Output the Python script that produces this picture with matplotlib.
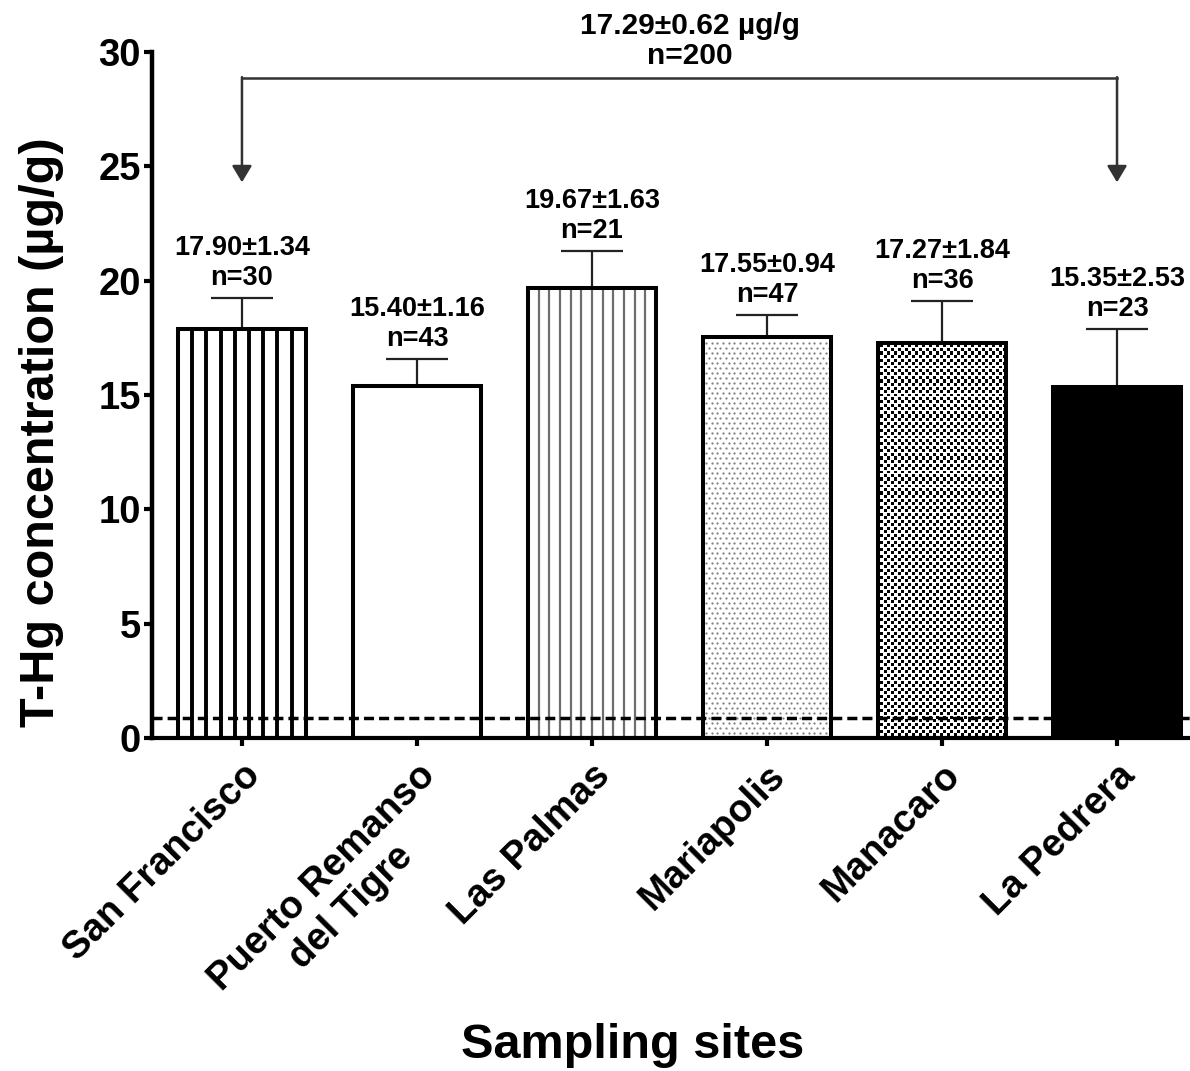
import numpy as np
import matplotlib.pyplot as plt

# ---------------- data ----------------
sites = ['San Francisco', 'Puerto Remanso\ndel Tigre', 'Las Palmas',
         'Mariapolis', 'Manacaro', 'La Pedrera']
means = [17.90, 15.40, 19.67, 17.55, 17.27, 15.35]
errors = [1.34, 1.16, 1.63, 0.94, 1.84, 2.53]
n_fish = [30, 43, 21, 47, 36, 23]
pooled_mean = 17.29
pooled_err = 0.62
pooled_n = 200
ref_level = 0.87          # dashed reference line

fills = ['black_lines', 'plain', 'gray_lines', 'dots', 'checker', 'solid']
# ------------------------------------------------------------

plt.rcParams['font.family'] = ['Liberation Sans', 'DejaVu Sans']
plt.rcParams['font.weight'] = 'bold'

W, H = 1190, 1071
fig = plt.figure(figsize=(W / 100, H / 100), dpi=100)
ax = fig.add_axes([152 / W, 333 / H, 1 - 152 / W, 686 / H])

XMIN, XMAX = -0.514, 5.417
ax.set_xlim(XMIN, XMAX)
ax.set_ylim(0, 30)
px_x = (W - 152) / (XMAX - XMIN)   # pixels per x unit
px_y = 686 / 30                    # pixels per y unit

x = np.arange(len(sites))
width = 0.73
face = ['black' if f in ('checker', 'solid') else 'white' for f in fills]
ax.bar(x, means, width, color=face, edgecolor='none', zorder=1)

# textures inside the bars
for xi, m, f in zip(x, means, fills):
    left, right = xi - width / 2, xi + width / 2
    if f == 'black_lines':
        for xl in np.linspace(left, right, 10)[1:-1]:
            ax.plot([xl, xl], [0, m], color='black', lw=2.8, zorder=1.5,
                    solid_capstyle='butt')
    elif f == 'gray_lines':
        for xl in np.linspace(left, right, 13)[1:-1]:
            ax.plot([xl, xl], [0, m], color='#6e6e6e', lw=1.6, zorder=1.5,
                    solid_capstyle='butt')
    elif f == 'dots':
        dx, dy = 5.7 / px_x, 5.0 / px_y
        pts = []
        for j, yy in enumerate(np.arange(dy, m - dy / 2, dy)):
            off = dx / 2 if j % 2 else 0
            for xx in np.arange(left + dx / 2 + off, right - dx / 3, dx):
                pts.append((xx, yy))
        pts = np.array(pts)
        ax.scatter(pts[:, 0], pts[:, 1], s=2.6, color='#808080',
                   linewidths=0, zorder=1.5)
    elif f == 'checker':
        cx, cy = 3.5 / px_x, 3.5 / px_y
        pts = []
        for j, yy in enumerate(np.arange(cy, m - cy / 2, cy)):
            off = cx if j % 2 else 0
            for xx in np.arange(left + cx + off, right - cx / 2, 2 * cx):
                pts.append((xx, yy))
        pts = np.array(pts)
        ax.scatter(pts[:, 0], pts[:, 1], s=6.0, marker='s', color='white',
                   linewidths=0, zorder=1.5)

# bar outlines
ax.bar(x, means, width, fill=False, edgecolor='black', linewidth=2.9, zorder=3)

# error bars (upper only)
ax.errorbar(x, means, yerr=[np.zeros(len(means)), errors], fmt='none',
            ecolor='#222222', elinewidth=1.6, capsize=22, capthick=1.6,
            zorder=2.5)

# dashed reference line
ax.axhline(ref_level, color='black', lw=2.5, dashes=(2.9, 1.45), zorder=4)

# value labels
for xi, m, e, n in zip(x, means, errors, n_fish):
    ax.text(xi, m + e + 0.3, f'{m:.2f}±{e:.2f}\nn={n}', ha='center',
            va='bottom', fontsize=19.5, linespacing=1.22, zorder=5)

# pooled bracket
yb = 28.86
ax.plot([x[0], x[-1]], [yb, yb], color='#333333', lw=1.8, clip_on=False)
for xe in (x[0], x[-1]):
    ax.annotate('', xy=(xe, 24.3), xytext=(xe, yb + 0.04),
                arrowprops=dict(arrowstyle='-|>,head_length=0.5,head_width=0.3',
                                color='#333333', lw=1.8, shrinkA=0, shrinkB=0,
                                mutation_scale=20))
ax.text(2.56, 29.2, f'{pooled_mean:.2f}±{pooled_err:.2f} µg/g\nn={pooled_n}',
        ha='center', va='bottom', fontsize=21.5, linespacing=1.1, clip_on=False)

# axes styling
for s in ('top', 'right'):
    ax.spines[s].set_visible(False)
ax.spines['left'].set_linewidth(3.2)
ax.spines['bottom'].set_linewidth(3.0)
ax.set_yticks(range(0, 31, 5))
ax.tick_params(axis='y', direction='out', length=6, width=3, labelsize=27.5,
               pad=2)
ax.set_xticks(x)
ax.set_xticklabels(sites, rotation=45, ha='right', rotation_mode='anchor',
                   multialignment='center')
ax.tick_params(axis='x', direction='out', length=6, width=3, labelsize=27.5,
               pad=8)

fig.text(42 / W, 1 - 432 / H, 'T-Hg concentration (µg/g)', rotation=90,
         ha='center', va='center', fontsize=35)
fig.text(633 / W, 1 - 1045 / H, 'Sampling sites', ha='center', va='center',
         fontsize=35)

fig.savefig('out.png', dpi=100)
